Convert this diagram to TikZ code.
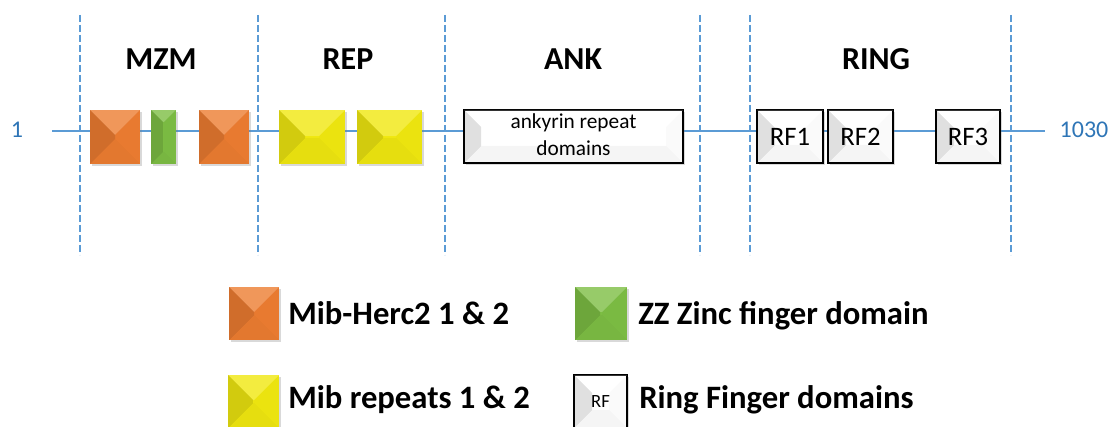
\documentclass[tikz,border=0pt]{standalone}
\usepackage{fontspec}
\setmainfont{Carlito}
\usetikzlibrary{calc,fit,shadows}

\definecolor{lineblue}{RGB}{91,155,213}
\definecolor{numblue}{RGB}{46,117,182}
\definecolor{mibred}{RGB}{237,125,49}
\definecolor{zzgreen}{RGB}{125,190,68}
\definecolor{repyellow}{RGB}{240,232,16}

\tikzset{
  domain/.style={fill=#1, inner sep=0pt, outer sep=0pt,
    drop shadow={shadow xshift=1.5pt, shadow yshift=-1.5pt, opacity=.3}},
  rfbox/.style={domain=white, draw=black, line width=1pt, align=center},
  boxtext/.style={font=\fontsize{#1}{20}\selectfont, align=center},
  region/.style={anchor=base, font=\bfseries\fontsize{24}{28}\selectfont},
  legend/.style={anchor=base west, inner sep=0pt, font=\bfseries\fontsize{24.5}{28}\selectfont},
  terminus/.style={anchor=base, text=numblue, font=\fontsize{18}{20}\selectfont},
  sep/.style={lineblue, line width=1.5pt, dash pattern=on 5pt off 2.5pt},
}

\begin{document}
\begin{tikzpicture}[x=0.75pt,y=0.75pt,yscale=-1,xscale=1]
\useasboundingbox (0,0) rectangle (1113,427);

% region borders
\foreach \x in {80,258,445,700,750,1011}
  \draw[sep] (\x,15) -- (\x,255);

% protein backbone
\coordinate (nterm) at (52,131);
\coordinate (cterm) at (1045,131);
\draw[lineblue, line width=1.7pt] (nterm) -- (cterm);
\node[terminus] (aa1) at (17,138) {1};
\node[terminus] (aa1030) at (1084,138) {1030};

% region titles
\node[region] (mzm) at (161,70) {MZM};
\node[region] (rep) at (348,70) {REP};
\node[region] (ank) at (573,70) {ANK};
\node[region] (ring) at (876,70) {RING};

% domains
\node[domain=mibred, fit={(90,110) (140,164)}] (mh1) {};
\node[domain=zzgreen, fit={(151,110) (176,164)}] (zz) {};
\node[domain=mibred, fit={(199,110) (249,164)}] (mh2) {};
\node[domain=repyellow, fit={(279,110) (345,164)}] (rep1) {};
\node[domain=repyellow, fit={(357,110) (422,164)}] (rep2) {};
\node[rfbox, fit={(464,110) (683,163)}] (ankd) {};
\node[rfbox, fit={(757,110) (823,163)}] (rf1) {};
\node[rfbox, fit={(828,110) (893,163)}] (rf2) {};
\node[rfbox, fit={(936,110) (1000,163)}] (rf3) {};

% legend keys
\node[domain=mibred, fit={(229,287) (279,340)}] (keymh) {};
\node[domain=repyellow, fit={(228,375) (279,428)}] (keyrep) {};
\node[domain=zzgreen, fit={(575,287) (627,340)}] (keyzz) {};
\node[rfbox, fit={(574,375) (627,428)}] (keyrf) {};

% bevel on every box
\foreach \b/\d in {mh1/25,zz/12,mh2/25,rep1/26,rep2/26,ankd/17,rf1/18,rf2/18,rf3/18,
                   keymh/25,keyrep/25,keyzz/25,keyrf/18}{
  \fill[white, fill opacity=.2] (\b.north west) -- (\b.north east)
    -- ($(\b.north east)+(-\d,\d)$) -- ($(\b.north west)+(\d,\d)$) -- cycle;
  \fill[black, fill opacity=.12] (\b.north west) -- ($(\b.north west)+(\d,\d)$)
    -- ($(\b.south west)+(\d,-\d)$) -- (\b.south west) -- cycle;
  \fill[black, fill opacity=.04] (\b.south west) -- ($(\b.south west)+(\d,-\d)$)
    -- ($(\b.south east)+(-\d,-\d)$) -- (\b.south east) -- cycle;
  \fill[black, fill opacity=.02] (\b.south east) -- ($(\b.south east)+(-\d,-\d)$)
    -- ($(\b.north east)+(-\d,\d)$) -- (\b.north east) -- cycle;
}

% box texts
\node[boxtext=16] (anktxt) at ($(ankd.center)+(0,-2)$) {ankyrin repeat\\domains};
\node[boxtext=20] (rf1txt) at (rf1) {RF1};
\node[boxtext=20] (rf2txt) at (rf2) {RF2};
\node[boxtext=20] (rf3txt) at (rf3) {RF3};
\node[boxtext=14] (keyrftxt) at (keyrf) {RF};

% legend labels
\node[legend] (lbmh) at (288,325) {Mib-Herc2 1 \& 2};
\node[legend] (lbrep) at (288,408) {Mib repeats 1 \& 2};
\node[legend] (lbzz) at (638,325) {ZZ Zinc finger domain};
\node[legend] (lbrf) at (639,408) {Ring Finger domains};
\end{tikzpicture}
\end{document}
